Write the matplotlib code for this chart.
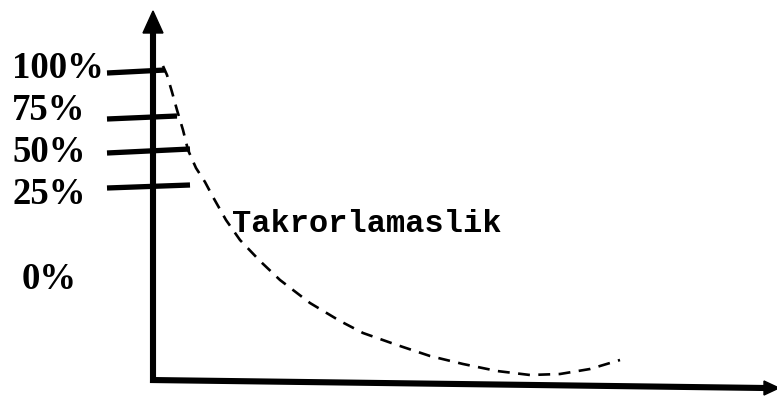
import matplotlib.pyplot as plt
from matplotlib.patches import Polygon

# Forgetting curve sketch, in pixel units of the 777x398 canvas.
LEVEL_LABELS = ["100%", "75%", "50%", "25%", "0%"]
CURVE_LABEL = "Takrorlamaslik"

CURVE_X = [163, 167, 172, 177, 183, 188, 196, 205, 213, 226, 240, 260, 280,
           310, 340, 363, 397, 430, 463, 497, 530, 560, 590, 620]
CURVE_Y = [66, 75, 92, 110, 130, 150, 168, 182, 197, 220, 240, 261, 280,
           303, 321, 333, 345, 356, 364, 371, 375, 374, 369, 360]

# layout: (label x, label baseline, tick line left, right, y-left, y-right)
LABEL_POS = [(12, 78), (12, 120), (12, 162), (12, 204), (22, 289)]
TICK_LINES = [(107, 165, 73, 70), (107, 177, 119, 116),
              (107, 190, 153, 149), (107, 190, 188, 185)]

fig = plt.figure(figsize=(7.77, 3.98), dpi=100)
ax = fig.add_axes([0, 0, 1, 1])
ax.set_xlim(0, 777)
ax.set_ylim(398, 0)
ax.axis("off")

# y axis with arrow
ax.plot([153, 153], [383, 30], color="black", lw=4.4, solid_capstyle="butt")
ax.add_patch(Polygon([[143, 33], [163, 33], [153, 11]], closed=True, color="black"))

# x axis with arrow
ax.plot([150, 765], [380, 388], color="black", lw=4.4, solid_capstyle="butt")
ax.add_patch(Polygon([[764, 381], [764, 395], [779, 388]], closed=True, color="black"))

for x0, x1, y0, y1 in TICK_LINES:
    ax.plot([x0, x1], [y0, y1], color="black", lw=3.8, solid_capstyle="butt")

for label, (x, y) in zip(LEVEL_LABELS, LABEL_POS):
    ax.text(x, y, label, ha="left", va="baseline", fontsize=26.5,
            fontweight="bold", family="Liberation Serif", color="black")

ax.plot(CURVE_X, CURVE_Y, color="black", lw=1.9, linestyle=(0, (4.5, 3.2)))

ax.text(232, 232, CURVE_LABEL, ha="left", va="baseline", fontsize=23,
        fontweight="bold", family="Liberation Mono", color="black")

fig.savefig("out.png", dpi=100, facecolor="white")
